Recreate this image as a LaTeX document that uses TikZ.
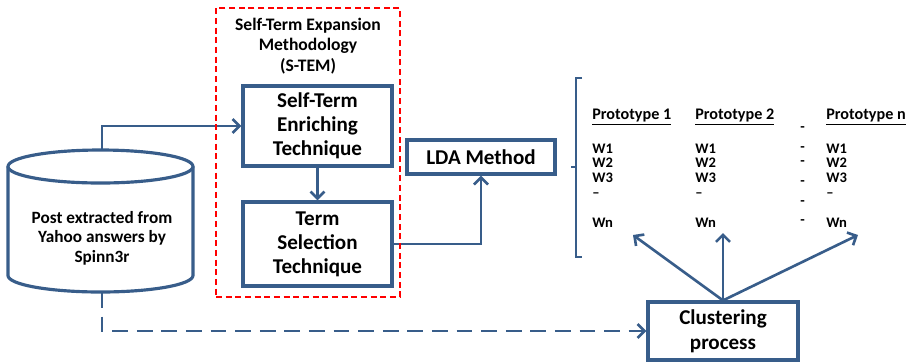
\documentclass[tikz,border=0pt]{standalone}
\usepackage{fontspec}
\setmainfont{Carlito}
\usetikzlibrary{arrows.meta, positioning}
\definecolor{flowblue}{RGB}{56,93,138}

\begin{document}
\begin{tikzpicture}[x=0.02cm, y=-0.02cm,
    % Process boxes
    stepbox/.style={draw=flowblue, line width=1.8pt, fill=white, align=center, inner sep=2pt, font=\fontsize{12}{13.6}\selectfont\bfseries},
    % Dashed frame round S-TEM
    groupbox/.style={draw=red, dash pattern=on 3.5pt off 2pt, line width=1.6pt, minimum width=3.68cm, minimum height=5.78cm},
    grouptitle/.style={align=center, font=\fontsize{10}{11.5}\selectfont\bfseries},
    dbtext/.style={align=center, font=\fontsize{9.8}{11.2}\selectfont\bfseries},
    % Prototype table cells
    cell/.style={anchor=west, inner sep=0pt, font=\fontsize{8.3}{9}\selectfont\bfseries},
    headcell/.style={cell, font=\fontsize{9.2}{10}\selectfont\bfseries},
    arrow/.style={draw=flowblue, line width=1.5pt, -{Straight Barb[length=4pt, width=8pt]}},
    dasharrow/.style={arrow, dash pattern=on 9pt off 5pt}
]
\useasboundingbox (0,0) rectangle (914,363);

% Database cylinder
\draw[flowblue, line width=1.8pt, fill=white] (8,166.5) -- (8,275.5)
    arc[start angle=180, end angle=360, x radius=1.85cm, y radius=0.33cm] -- (193,166.5);
\draw[flowblue, line width=1.8pt, fill=white] (100.5,166.5) ellipse [x radius=1.85cm, y radius=0.33cm];
\node[dbtext] (post) at (102,238) {Post extracted from\\Yahoo answers by\\Spinn3r};
\coordinate (dbtop) at (102,150);
\coordinate (dbbot) at (102,292);

% S-TEM steps
\node[stepbox, minimum width=2.98cm, minimum height=1.6cm] (enrich) at (317.5,126) {Self-Term\\Enriching\\Technique};
\node[stepbox, minimum width=2.98cm, minimum height=1.68cm] (select) at (317.5,244) {Term\\Selection\\Technique};
\node[stepbox, minimum width=2.96cm, minimum height=0.68cm] (lda) at (481,157) {LDA Method};
\node[stepbox, minimum width=3cm, minimum height=1.16cm, font=\fontsize{12}{14.2}\selectfont\bfseries] (clust) at (723,331) {Clustering\\process};

% Connectors
\draw[arrow] (dbtop) |- (enrich.west);
\draw[arrow] (enrich.south) -- (select.north);
\draw[arrow] (select.east) -| (lda.south);
\draw[dasharrow] (dbbot) |- (clust.west);

% Frame drawn last, over the connectors
\node[groupbox] (stem) at (308,152.5) {};
\node[grouptitle] (stemtitle) at (308,46) {Self-Term Expansion\\Methodology\\(S-TEM)};

% Prototype table
\draw[flowblue, line width=1.3pt] (582,78) -- (576,78) -- (576,257) -- (582,257);
\draw[flowblue, line width=1.3pt] (576,167) -- (571,167);
\foreach \x/\hd [count=\c] in {592/Prototype 1, 695/Prototype 2, 826/Prototype n} {
    \node[headcell] (hd\c) at (\x,117) {\underline{\hd}};
    \node[cell] (wa\c) at (\x,149) {W1};
    \node[cell] (wb\c) at (\x,163) {W2};
    \node[cell] (wc\c) at (\x,178) {W3};
    \node[cell] (wd\c) at (\x,195) {--};
    \node[cell] (wn\c) at (\x,223) {Wn};
}
\foreach \y [count=\k] in {129,149,163,183,203,222} {
    \node[cell] (dot\k) at (800,\y) {-};
}

% Arrows from clustering to prototypes
\coordinate (tgt1) at (633,235);
\coordinate (tgt2) at (723,233);
\coordinate (tgt3) at (858,235);
\foreach \t in {tgt1, tgt2, tgt3} {
    \draw[arrow] (clust.north) -- (\t);
}

\end{tikzpicture}
\end{document}
